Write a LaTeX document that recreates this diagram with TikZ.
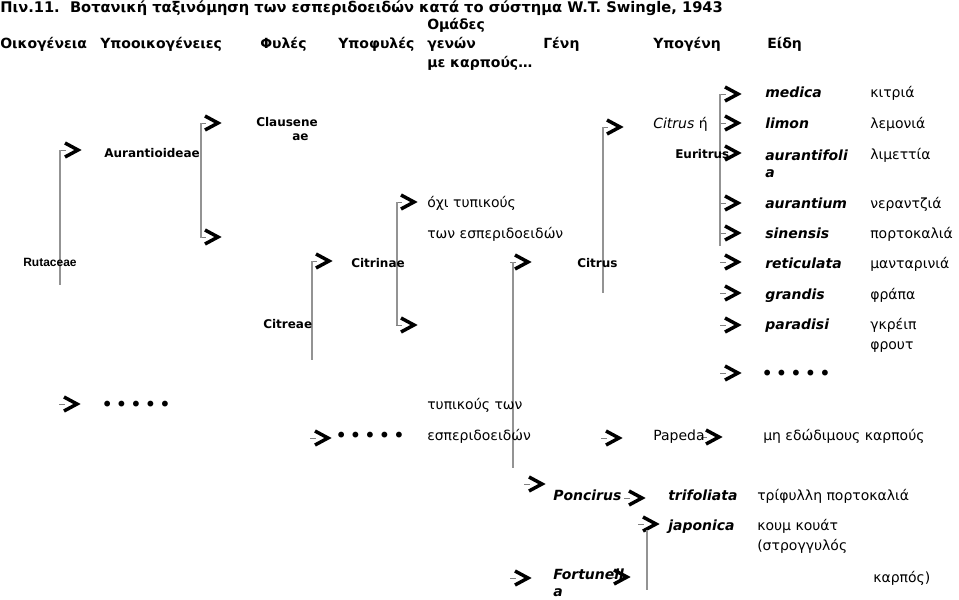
\documentclass[tikz,border=0pt]{standalone}
\usepackage{fontspec}
\setmainfont{DejaVu Sans}
\newfontfamily\arialfont{Liberation Sans}
\tikzset{
  txt/.style={anchor=base west, inner sep=0pt, font=\fontsize{10.5}{15}\selectfont},
  head/.style={txt, font=\fontsize{10.5}{14.25}\selectfont\bfseries},
  taxon/.style={txt, font=\fontsize{9}{11}\selectfont\bfseries},
  species/.style={txt, font=\fontsize{10.5}{12.75}\selectfont\bfseries\itshape},
  dots/.style={txt, font=\fontsize{15}{16}\selectfont},
  vline/.style={draw=gray!85, line width=1pt},
  chev/.pic={
    \draw[gray, line width=0.5pt] (-13,0) -- (-7,0);
    \draw[line width=2.6pt, line join=miter] (-8,-7) -- (5,0) -- (-8,7);
  }
}
\newcommand\fivedots{•\hspace{2pt}•\hspace{2pt}•\hspace{2pt}•\hspace{2pt}•}
\begin{document}
\begin{tikzpicture}[x=0.75pt, y=-0.75pt]
	\useasboundingbox (0,0) rectangle (959,599);
	% title and column heads
	\node[head, font=\fontsize{11}{13}\selectfont\bfseries] (title) at (0,13) {Πιν.11.\ \ Βοτανική ταξινόμηση των εσπεριδοειδών κατά το σύστημα W.T. Swingle, 1943};
	\node[head] (h1) at (0,49) {Οικογένεια};
	\node[head] (h2) at (100,49) {Υποοικογένειες};
	\node[head] (h3) at (260,49) {Φυλές};
	\node[head] (h4) at (338,49) {Υποφυλές};
	\node[head, align=left] (h5) at (427,68) {Ομάδες\\γενών\\με καρπούς…};
	\node[head] (h6) at (543,49) {Γένη};
	\node[head] (h7) at (653,49) {Υπογένη};
	\node[head] (h8) at (767,49) {Είδη};
	% arrows
	\coordinate (a1) at (73,150);
	\coordinate (a2) at (213,123);
	\coordinate (a3) at (213,237);
	\coordinate (a4) at (324,261);
	\coordinate (a5) at (409,202);
	\coordinate (a6) at (409,325);
	\coordinate (a7) at (72,404);
	\coordinate (a8) at (323,438);
	\coordinate (a9) at (523,262);
	\coordinate (a10) at (615,127);
	\coordinate (a11) at (614,438);
	\coordinate (a12) at (714,437);
	\coordinate (a13) at (537,484);
	\coordinate (a14) at (637,498);
	\coordinate (a15) at (651,524);
	\coordinate (a16) at (523,578);
	\coordinate (a17) at (622,577);
	\foreach \y [count=\i] in {94,123,153,203,233,262,293,325,373}
		\coordinate (b\i) at (733,\y);
	\foreach \a in {a1,a2,a3,a4,a5,a6,a7,a8,a9,a10,a11,a12,a13,a14,a15,a16,
		b1,b2,b3,b4,b5,b6,b7,b8,b9}
		\pic at (\a) {chev};
	% brackets
	\draw[vline] (a1) ++(-13,0) -- ++(0,135);
	\draw[vline] (a2) ++(-12,0) -- ++(0,115);
	\draw[vline] (a4) ++(-12,0) -- ++(0,99);
	\draw[vline] (a5) ++(-12,0) -- ++(0,123);
	\draw[vline] (a9) ++(-10,0) -- ++(0,206);
	\draw[vline] (a10) ++(-12,0) -- ++(0,166);
	\draw[vline] (b1) ++(-13,0) -- ++(0,152);
	\draw[vline] (a15) ++(-4,6) -- ++(0,60);
	% taxa
	\node[taxon] (rut) at (23,266) {\arialfont Rutaceae};
	\node[taxon] (aur) at (104,157) {Aurantioideae};
	\node[taxon, align=left] (cla) at (256,141) {Clausene\\\hspace*{27pt}ae};
	\node[taxon] (cin) at (351,267) {Citrinae};
	\node[taxon] (cre) at (263,328) {Citreae};
	\node[taxon] (cit) at (577,267) {Citrus};
	\node[taxon] (eur) at (675,158) {Euritrus};
	\node[txt] (g1) at (427,207) {όχι τυπικούς};
	\node[txt] (g2) at (427,238) {των εσπεριδοειδών};
	\node[txt] (g3) at (427,409) {τυπικούς των};
	\node[txt] (g4) at (427,440) {εσπεριδοειδών};
	\node[txt] (sg1) at (653,128) {\textit{Citrus} ή};
	\node[txt] (sg2) at (653,440) {Papeda};
	\node[species] (pon) at (553,500) {Poncirus};
	\node[species, align=left] (for) at (553,596) {Fortunell\\a};
	\pic at (a17) {chev};
	% species
	\node[species] (s1) at (765,98) {medica};
	\node[species] (s2) at (765,128) {limon};
	\node[species, align=left] (s3) at (765,177) {aurantifoli\\a};
	\node[species] (s4) at (765,208) {aurantium};
	\node[species] (s5) at (765,238) {sinensis};
	\node[species] (s6) at (765,268) {reticulata};
	\node[species] (s7) at (765,299) {grandis};
	\node[species] (s8) at (765,329) {paradisi};
	\node[species] (s9) at (668,500) {trifoliata};
	\node[species] (s10) at (668,530) {japonica};
	% common names
	\node[txt] (k1) at (870,98) {κιτριά};
	\node[txt] (k2) at (870,128) {λεμονιά};
	\node[txt] (k3) at (870,160) {λιμεττία};
	\node[txt] (k4) at (870,208) {νεραντζιά};
	\node[txt] (k5) at (870,238) {πορτοκαλιά};
	\node[txt] (k6) at (870,268) {μανταρινιά};
	\node[txt] (k7) at (870,299) {φράπα};
	\node[txt, align=left] (k8) at (870,349) {γκρέιπ\\φρουτ};
	\node[txt] (k9) at (763,440) {μη εδώδιμους καρπούς};
	\node[txt] (k10) at (757,500) {τρίφυλλη πορτοκαλιά};
	\node[txt, align=left] (k11) at (757,550) {κουμ κουάτ\\(στρογγυλός};
	\node[txt] (k12) at (873,582) {καρπός)};
	% dots
	\node[dots] (d1) at (101,411) {\fivedots};
	\node[dots] (d2) at (335,442) {\fivedots};
	\node[dots] (d3) at (761,380) {\fivedots};
\end{tikzpicture}
\end{document}
